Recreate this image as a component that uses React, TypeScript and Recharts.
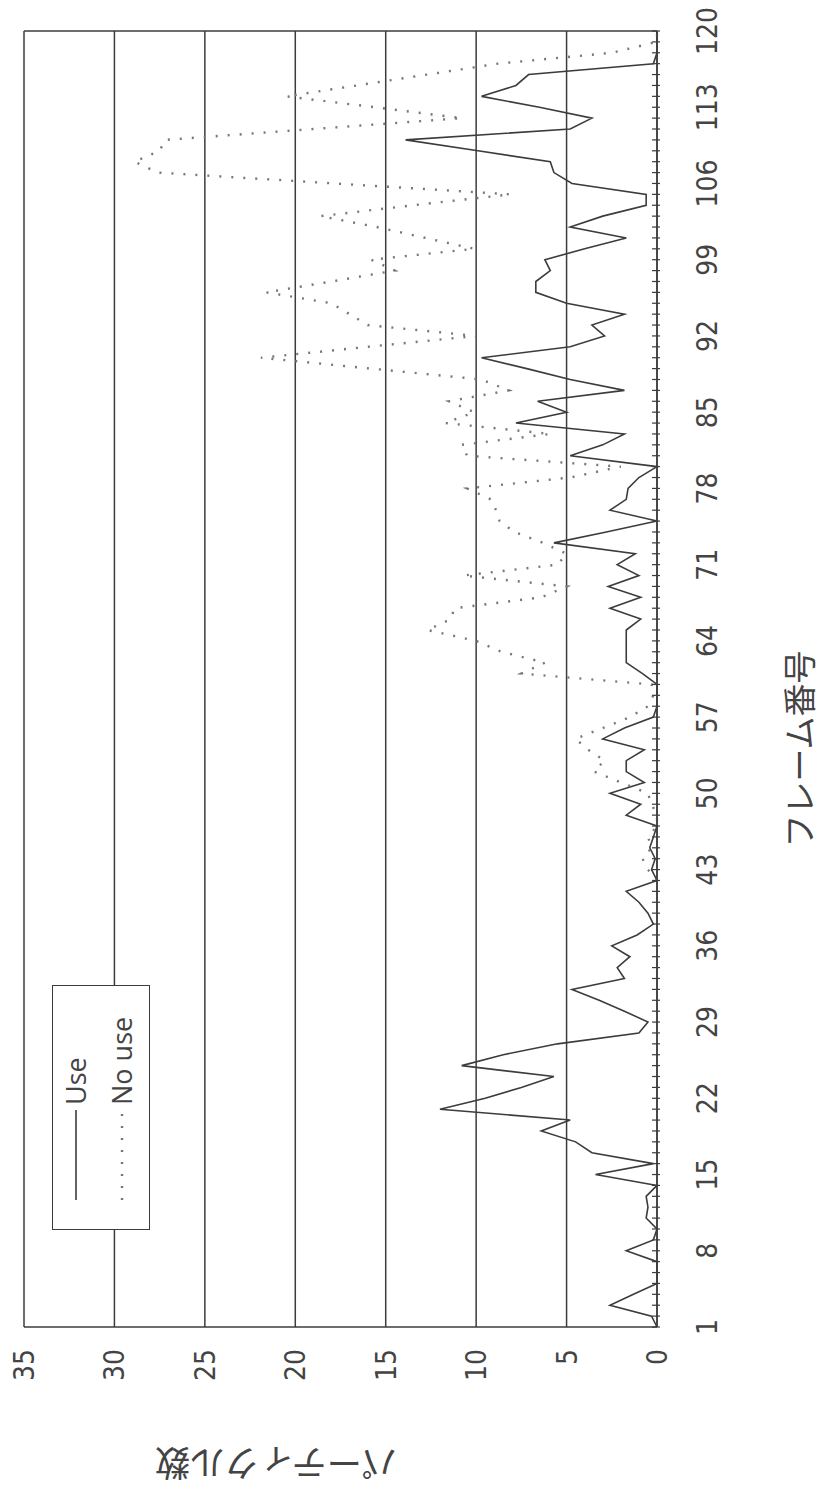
import React from 'react';
import { LineChart, Line, XAxis, YAxis, CartesianGrid, ReferenceLine, Legend, Label } from 'recharts';

const frames = [
  1, 2, 3, 4, 5, 6, 7, 8, 9, 10, 11, 12, 13, 14, 15, 16, 17, 18, 19, 20,
  21, 22, 23, 24, 25, 26, 27, 28, 29, 30, 31, 32, 33, 34, 35, 36, 37, 38, 39, 40,
  41, 42, 43, 44, 45, 46, 47, 48, 49, 50, 51, 52, 53, 54, 55, 56, 57, 58, 59, 60,
  61, 62, 63, 64, 65, 66, 67, 68, 69, 70, 71, 72, 73, 74, 75, 76, 77, 78, 79, 80,
  81, 82, 83, 84, 85, 86, 87, 88, 89, 90, 91, 92, 93, 94, 95, 96, 97, 98, 99, 100,
  101, 102, 103, 104, 105, 106, 107, 108, 109, 110, 111, 112, 113, 114, 115, 116, 117, 118, 119, 120,
];

const frameTickLabels = [1, 8, 15, 22, 29, 36, 43, 50, 57, 64, 71, 78, 85, 92, 99, 106, 113, 120];
const valueTicks = [0, 5, 10, 15, 20, 25, 30, 35];

const useValues = [
  0, 0.3, 2.6, 1.3, 0, 0, 0, 1.7, 0.2, 0,
  0.6, 0.5, 0.6, 0, 3.4, 0.2, 3.6, 4.5, 6.4, 4.8,
  12, 9.5, 7.5, 5.7, 10.8, 8.5, 5.5, 1.0, 0.5, 1.8,
  3.2, 4.7, 1.8, 2.2, 1.5, 2.5, 1.1, 0.2, 0.5, 1.0,
  1.7, 0, 0.3, 0.1, 0.4, 0.2, 0, 1.7, 0.9, 2.6,
  0.7, 1.7, 1.7, 0.7, 3.0, 1.8, 0.2, 0, 0, 0,
  0.8, 1.7, 1.7, 1.7, 1.7, 0.9, 2.6, 0.9, 2.7, 1.0,
  2.2, 1.2, 5.7, 2.8, 0, 2.6, 1.7, 1.6, 1.0, 0,
  4.8, 3.0, 1.8, 7.8, 5.0, 6.6, 1.8, 4.8, 7.2, 9.7,
  4.8, 2.9, 3.6, 1.8, 5.0, 6.7, 6.7, 5.9, 6.2, 4.0,
  1.7, 4.8, 3.0, 0.6, 0.6, 4.7, 5.7, 5.9, 9.9, 13.9,
  4.8, 3.6, 6.5, 9.7, 7.8, 7.1, 0.2, 0, 0, 0,
];

const noUseValues = [
  null, null, null, null, null, null, null, null, null, null,
  null, null, null, null, null, null, null, null, null, null,
  null, null, null, null, null, null, null, null, null, null,
  null, null, null, null, null, null, null, null, null, null,
  null, 0, 0.5, 0.8, 0.3, 0.5, 0, 0, 0.3, 0.5,
  2.0, 3.5, 2.9, 3.8, 4.5, 3.0, 1.5, 0.5, 0.2, 0.3,
  7.5, 6.2, 8.6, 10, 12.7, 11.4, 11.2, 6.4, 5.0, 10.7,
  5.5, 5.0, 6.3, 7.9, 8.7, 8.9, 9.2, 10.5, 4.8, 2.0,
  10.5, 10.8, 5.9, 11.7, 10.1, 11.5, 8.2, 9.7, 15.8, 21.9,
  16, 10, 16, 17, 18, 21.6, 18, 14.5, 15.8, 10.1,
  12.8, 15.5, 18.6, 13.5, 8.1, 17.8, 27.6, 28.9, 27.5, 27.2,
  19, 10.8, 15.6, 20.5, 16.6, 12.7, 8.8, 2.5, 0, 0,
];

const seriesKeys = ['use', 'noUse'];
const seriesNames: Record<string, string> = { use: 'Use', noUse: 'No use' };
const xTitle = 'フレーム番号';
const yTitle = 'パーティクル数';

const data = frames.map((f, i) => ({ frame: f, use: useValues[i], noUse: noUseValues[i] }));

const INK = '#3c3c3c';
const NUM_FONT = "'Liberation Sans Narrow', 'DejaVu Sans Condensed', 'Open Sans', sans-serif";
const JP_FONT = "'Noto Sans CJK JP', 'Noto Sans', sans-serif";

const FrameTick = (props: any) => {
  const { x, y, payload } = props;
  const show = frameTickLabels.includes(payload.value);
  return (
    <g>
      <line x1={x} x2={x} y1={y - 5} y2={y + 3} stroke={INK} strokeWidth={1.2} />
      {show && (
        <text
          x={x}
          y={y + 50}
          textAnchor="middle"
          dominantBaseline="central"
          fontSize={28}
          fontFamily={NUM_FONT}
          fill="#444"
        >
          {payload.value}
        </text>
      )}
    </g>
  );
};

const renderLegend = (props: any) => {
  const payload = [...(props.payload || [])].sort(
    (a: any, b: any) => seriesKeys.indexOf(String(a.dataKey)) - seriesKeys.indexOf(String(b.dataKey))
  );
  return (
    <div
      style={{
        width: 245,
        height: 98,
        boxSizing: 'border-box',
        border: `1.5px solid ${INK}`,
        background: '#fff',
      }}
    >
      {payload.map((entry: any) => {
        const dashed = entry.dataKey === 'noUse';
        return (
          <div
            key={String(entry.dataKey)}
            style={{ display: 'flex', alignItems: 'center', height: 46 }}
          >
            <svg width={120} height={12} style={{ display: 'block' }}>
              <line
                x1={29}
                x2={119}
                y1={6}
                y2={6}
                stroke={dashed ? '#777' : INK}
                strokeWidth={dashed ? 2.4 : 1.6}
                strokeDasharray={dashed ? '2 10' : undefined}
              />
            </svg>
            <span
              style={{
                fontFamily: "'Open Sans', sans-serif",
                fontSize: 27,
                color: '#444',
                marginLeft: 4,
                lineHeight: '46px',
              }}
            >
              {entry.value}
            </span>
          </div>
        );
      })}
    </div>
  );
};

export default function App() {
  return (
    <div
      style={{
        position: 'absolute',
        left: 0,
        top: 0,
        width: 825,
        height: 1492,
        overflow: 'hidden',
        background: '#fff',
      }}
    >
      <div
        style={{
          position: 'absolute',
          left: 0,
          top: 0,
          width: 1492,
          height: 825,
          transformOrigin: '0 0',
          transform: 'translateY(1492px) rotate(-90deg)',
        }}
      >
        <LineChart
          width={1492}
          height={825}
          data={data}
          margin={{ top: 24, right: 31, bottom: 0, left: 0 }}
        >
          <CartesianGrid vertical={false} stroke={INK} strokeWidth={1.5} />
          <XAxis
            dataKey="frame"
            type="number"
            domain={[1, 120]}
            ticks={frames}
            interval={0}
            tick={<FrameTick />}
            tickLine={false}
            tickSize={0}
            tickMargin={0}
            height={168}
            axisLine={{ stroke: INK, strokeWidth: 1.5 }}
          >
            <Label
              content={(p: any) => {
                const vb = p.viewBox || { x: 165, y: 657, width: 1296, height: 168 };
                return (
                  <text
                    x={vb.x + vb.width * 0.446}
                    y={vb.y + 141}
                    textAnchor="middle"
                    dominantBaseline="central"
                    fontSize={33}
                    fontFamily={JP_FONT}
                    fill="#444"
                  >
                    {xTitle}
                  </text>
                );
              }}
            />
          </XAxis>
          <YAxis
            type="number"
            domain={[0, 35]}
            ticks={valueTicks}
            interval={0}
            tickLine={false}
            tickSize={0}
            tickMargin={22}
            width={165}
            axisLine={{ stroke: INK, strokeWidth: 1.5 }}
            tick={{ fontSize: 28, fill: '#444', fontFamily: NUM_FONT }}
          >
            <Label
              content={(p: any) => {
                const vb = p.viewBox || { x: 0, y: 24, width: 165, height: 633 };
                const cx = vb.x + 27;
                const cy = vb.y + vb.height * 0.398;
                return (
                  <text
                    x={cx}
                    y={cy}
                    transform={`rotate(-90, ${cx}, ${cy})`}
                    textAnchor="middle"
                    dominantBaseline="central"
                    fontSize={35}
                    fontFamily={JP_FONT}
                    fill="#444"
                  >
                    {yTitle}
                  </text>
                );
              }}
            />
          </YAxis>
          <ReferenceLine x={120} stroke={INK} strokeWidth={1.5} />
          <Legend
            layout="vertical"
            align="center"
            verticalAlign="middle"
            wrapperStyle={{ position: 'absolute', left: 262, top: 52, width: 245, height: 98 }}
            content={renderLegend}
          />
          <Line
            type="linear"
            dataKey="use"
            name={seriesNames.use}
            stroke={INK}
            strokeWidth={1.6}
            dot={false}
            isAnimationActive={false}
            connectNulls={false}
          />
          <Line
            type="linear"
            dataKey="noUse"
            name={seriesNames.noUse}
            stroke="#777"
            strokeWidth={2.4}
            strokeDasharray="2 10"
            dot={false}
            isAnimationActive={false}
            connectNulls={false}
          />
        </LineChart>
      </div>
    </div>
  );
}
